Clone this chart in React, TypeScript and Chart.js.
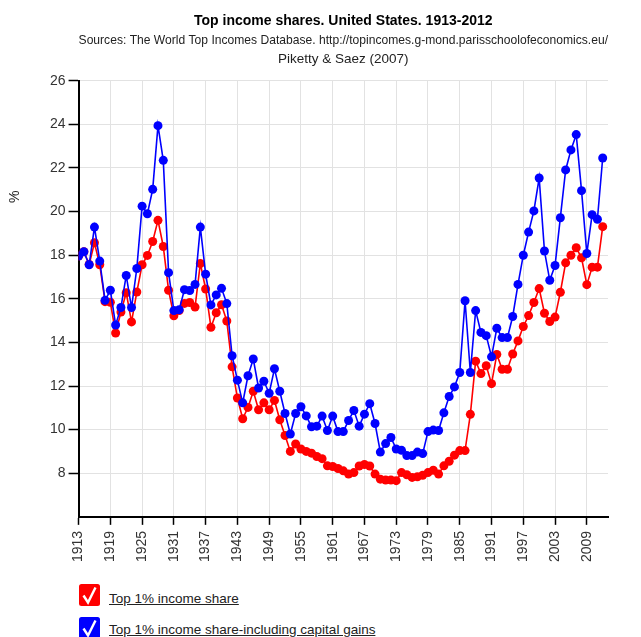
import React, { useEffect, useRef } from "react";
import { Chart, registerables } from "chart.js";

Chart.register(...registerables);

const TITLE = "Top income shares. United States. 1913-2012";
const SUBTITLE = [
  "Sources: The World Top Incomes Database. http://topincomes.g-mond.parisschoolofeconomics.eu/",
  "Piketty & Saez (2007)",
];
const Y_TITLE = "%";
const SERIES_NAMES = ["Top 1% income share", "Top 1% income share-including capital gains"];

const years = [
  1913, 1914, 1915, 1916, 1917, 1918, 1919, 1920, 1921, 1922,
  1923, 1924, 1925, 1926, 1927, 1928, 1929, 1930, 1931, 1932,
  1933, 1934, 1935, 1936, 1937, 1938, 1939, 1940, 1941, 1942,
  1943, 1944, 1945, 1946, 1947, 1948, 1949, 1950, 1951, 1952,
  1953, 1954, 1955, 1956, 1957, 1958, 1959, 1960, 1961, 1962,
  1963, 1964, 1965, 1966, 1967, 1968, 1969, 1970, 1971, 1972,
  1973, 1974, 1975, 1976, 1977, 1978, 1979, 1980, 1981, 1982,
  1983, 1984, 1985, 1986, 1987, 1988, 1989, 1990, 1991, 1992,
  1993, 1994, 1995, 1996, 1997, 1998, 1999, 2000, 2001, 2002,
  2003, 2004, 2005, 2006, 2007, 2008, 2009, 2010, 2011, 2012,
];

const top1Share = [
  17.96, 18.16, 17.58, 18.57, 17.56, 15.87, 15.84, 14.43, 15.39, 16.28,
  14.94, 16.31, 17.56, 17.99, 18.63, 19.60, 18.40, 16.39, 15.22, 15.46,
  15.79, 15.83, 15.62, 17.62, 16.45, 14.69, 15.36, 15.73, 14.98, 12.88,
  11.45, 10.50, 11.02, 11.76, 10.91, 11.23, 10.91, 11.34, 10.45, 9.73,
  9.00, 9.34, 9.11, 9.00, 8.92, 8.77, 8.67, 8.34, 8.31, 8.22,
  8.11, 7.96, 8.03, 8.33, 8.40, 8.33, 7.96, 7.73, 7.69, 7.69,
  7.66, 8.03, 7.93, 7.81, 7.84, 7.91, 8.03, 8.14, 7.96, 8.34,
  8.55, 8.83, 9.04, 9.04, 10.70, 13.14, 12.57, 12.93, 12.11, 13.45,
  12.77, 12.77, 13.47, 14.07, 14.73, 15.23, 15.83, 16.47, 15.34, 14.96,
  15.16, 16.30, 17.65, 18.00, 18.34, 17.88, 16.65, 17.45, 17.45, 19.31,
];

const top1ShareCapGains = [
  17.96, 18.16, 17.56, 19.29, 17.73, 15.93, 16.39, 14.80, 15.60, 17.07,
  15.60, 17.39, 20.25, 19.90, 21.02, 23.94, 22.35, 17.20, 15.46, 15.50,
  16.42, 16.38, 16.66, 19.29, 17.13, 15.72, 16.18, 16.48, 15.78, 13.39,
  12.27, 11.23, 12.47, 13.24, 11.91, 12.22, 11.67, 12.79, 11.76, 10.74,
  9.80, 10.74, 11.05, 10.63, 10.13, 10.16, 10.62, 9.96, 10.62, 9.91,
  9.91, 10.42, 10.88, 10.16, 10.71, 11.19, 10.28, 8.97, 9.36, 9.64,
  9.11, 9.05, 8.81, 8.81, 8.97, 8.90, 9.91, 9.98, 9.96, 10.77,
  11.52, 11.96, 12.62, 15.91, 12.62, 15.46, 14.46, 14.31, 13.34, 14.65,
  14.22, 14.22, 15.19, 16.66, 18.00, 19.06, 20.03, 21.54, 18.19, 16.85,
  17.53, 19.72, 21.91, 22.83, 23.53, 20.96, 18.08, 19.86, 19.65, 22.46,
];

const xTickYears = [
  1913, 1919, 1925, 1931, 1937, 1943, 1949, 1955, 1961,
  1967, 1973, 1979, 1985, 1991, 1997, 2003, 2009,
];
const yTickValues = [8, 10, 12, 14, 16, 18, 20, 22, 24, 26];

const FONT = '"Liberation Sans", Arial, sans-serif';

const yTitlePlugin = {
  id: "yTitleText",
  afterDraw(chart: any) {
    const { ctx, chartArea } = chart;
    ctx.save();
    ctx.translate(15, chartArea.top + (chartArea.bottom - chartArea.top) * 0.266);
    ctx.rotate(-Math.PI / 2);
    ctx.font = `14px ${FONT}`;
    ctx.fillStyle = "#222";
    ctx.textAlign = "center";
    ctx.textBaseline = "middle";
    ctx.fillText(Y_TITLE, 0, 0);
    ctx.restore();
  },
};

function CheckBox({ color }: { color: string }) {
  return (
    <svg width="21" height="22" viewBox="0 0 21 22" style={{ display: "block" }}>
      <rect x="0" y="0" width="21" height="22" rx="2.5" ry="2.5" fill={color} />
      <path d="M4.5 11.5 L9 18.5 L16.5 3.5" fill="none" stroke="#fff" strokeWidth="2.4" strokeLinejoin="miter" />
    </svg>
  );
}

export default function App() {
  const canvasRef = useRef<HTMLCanvasElement | null>(null);

  useEffect(() => {
    const canvas = canvasRef.current;
    if (!canvas) return;
    const chart = new Chart(canvas, {
      type: "line",
      data: {
        datasets: [
          {
            label: SERIES_NAMES[1],
            data: years.map((y, i) => ({ x: y, y: top1ShareCapGains[i] })),
            borderColor: "#0000ff",
            backgroundColor: "#0000ff",
            borderWidth: 1.6,
            pointRadius: 4.5,
            pointBorderWidth: 0,
            pointBackgroundColor: "#0000ff",
            tension: 0,
          },
          {
            label: SERIES_NAMES[0],
            data: years.map((y, i) => ({ x: y, y: top1Share[i] })),
            borderColor: "#ff0000",
            backgroundColor: "#ff0000",
            borderWidth: 1.6,
            pointRadius: 4.5,
            pointBorderWidth: 0,
            pointBackgroundColor: "#ff0000",
            tension: 0,
          },
        ],
      },
      options: {
        responsive: false,
        animation: false,
        devicePixelRatio: 1,
        layout: { padding: { left: 47, right: 33, top: 0, bottom: 7 } },
        plugins: {
          legend: { display: false },
          tooltip: { enabled: false },
          title: {
            display: true,
            text: TITLE,
            fullSize: false,
            color: "#000",
            font: { family: FONT, size: 14, weight: "bold", lineHeight: 1.2 },
            padding: { top: 13, bottom: 0 },
          },
          subtitle: {
            display: true,
            text: SUBTITLE,
            fullSize: false,
            color: "#222",
            font: { family: FONT, size: 13.5, weight: "normal", lineHeight: 1.48 },
            padding: { top: 0, bottom: 11 },
          },
        },
        scales: {
          x: {
            type: "linear",
            min: 1913,
            max: 2013,
            afterBuildTicks: (scale: any) => {
              scale.ticks = xTickYears.map((v) => ({ value: v }));
            },
            ticks: {
              autoSkip: false,
              maxRotation: 90,
              minRotation: 90,
              padding: 6,
              color: "#333",
              font: { family: FONT, size: 14 },
              callback: (v: any) => String(v),
            },
            grid: { color: "#e2e2e2", lineWidth: 1, tickColor: "#000", tickLength: 8, tickWidth: 1.5 },
            border: { color: "#000", width: 2 },
          },
          y: {
            type: "linear",
            min: 6,
            max: 26,
            afterBuildTicks: (scale: any) => {
              scale.ticks = yTickValues.map((v) => ({ value: v }));
            },
            ticks: {
              padding: 3,
              color: "#333",
              font: { family: FONT, size: 14 },
              callback: (v: any) => String(v),
            },
            grid: { color: "#e2e2e2", lineWidth: 1, tickColor: "#000", tickLength: 10, tickWidth: 1.5 },
            border: { color: "#000", width: 2 },
          },
        },
      },
      plugins: [yTitlePlugin],
    });
    return () => chart.destroy();
  }, []);

  const legendText: React.CSSProperties = {
    position: "absolute",
    left: 109,
    fontFamily: FONT,
    fontSize: 13.5,
    color: "#222",
    textDecoration: "underline",
    whiteSpace: "nowrap",
    lineHeight: "16px",
  };

  return (
    <div style={{ position: "absolute", left: 0, top: 0, width: 641, height: 637, background: "#fff", overflow: "hidden" }}>
      <canvas ref={canvasRef} width={641} height={575} style={{ position: "absolute", left: 0, top: 0 }} />
      <div style={{ position: "absolute", left: 79, top: 584 }}>
        <CheckBox color="#ff0000" />
      </div>
      <div style={{ ...legendText, top: 591 }}>{SERIES_NAMES[0]}</div>
      <div style={{ position: "absolute", left: 79, top: 617 }}>
        <CheckBox color="#0000ff" />
      </div>
      <div style={{ ...legendText, top: 622 }}>{SERIES_NAMES[1]}</div>
    </div>
  );
}
